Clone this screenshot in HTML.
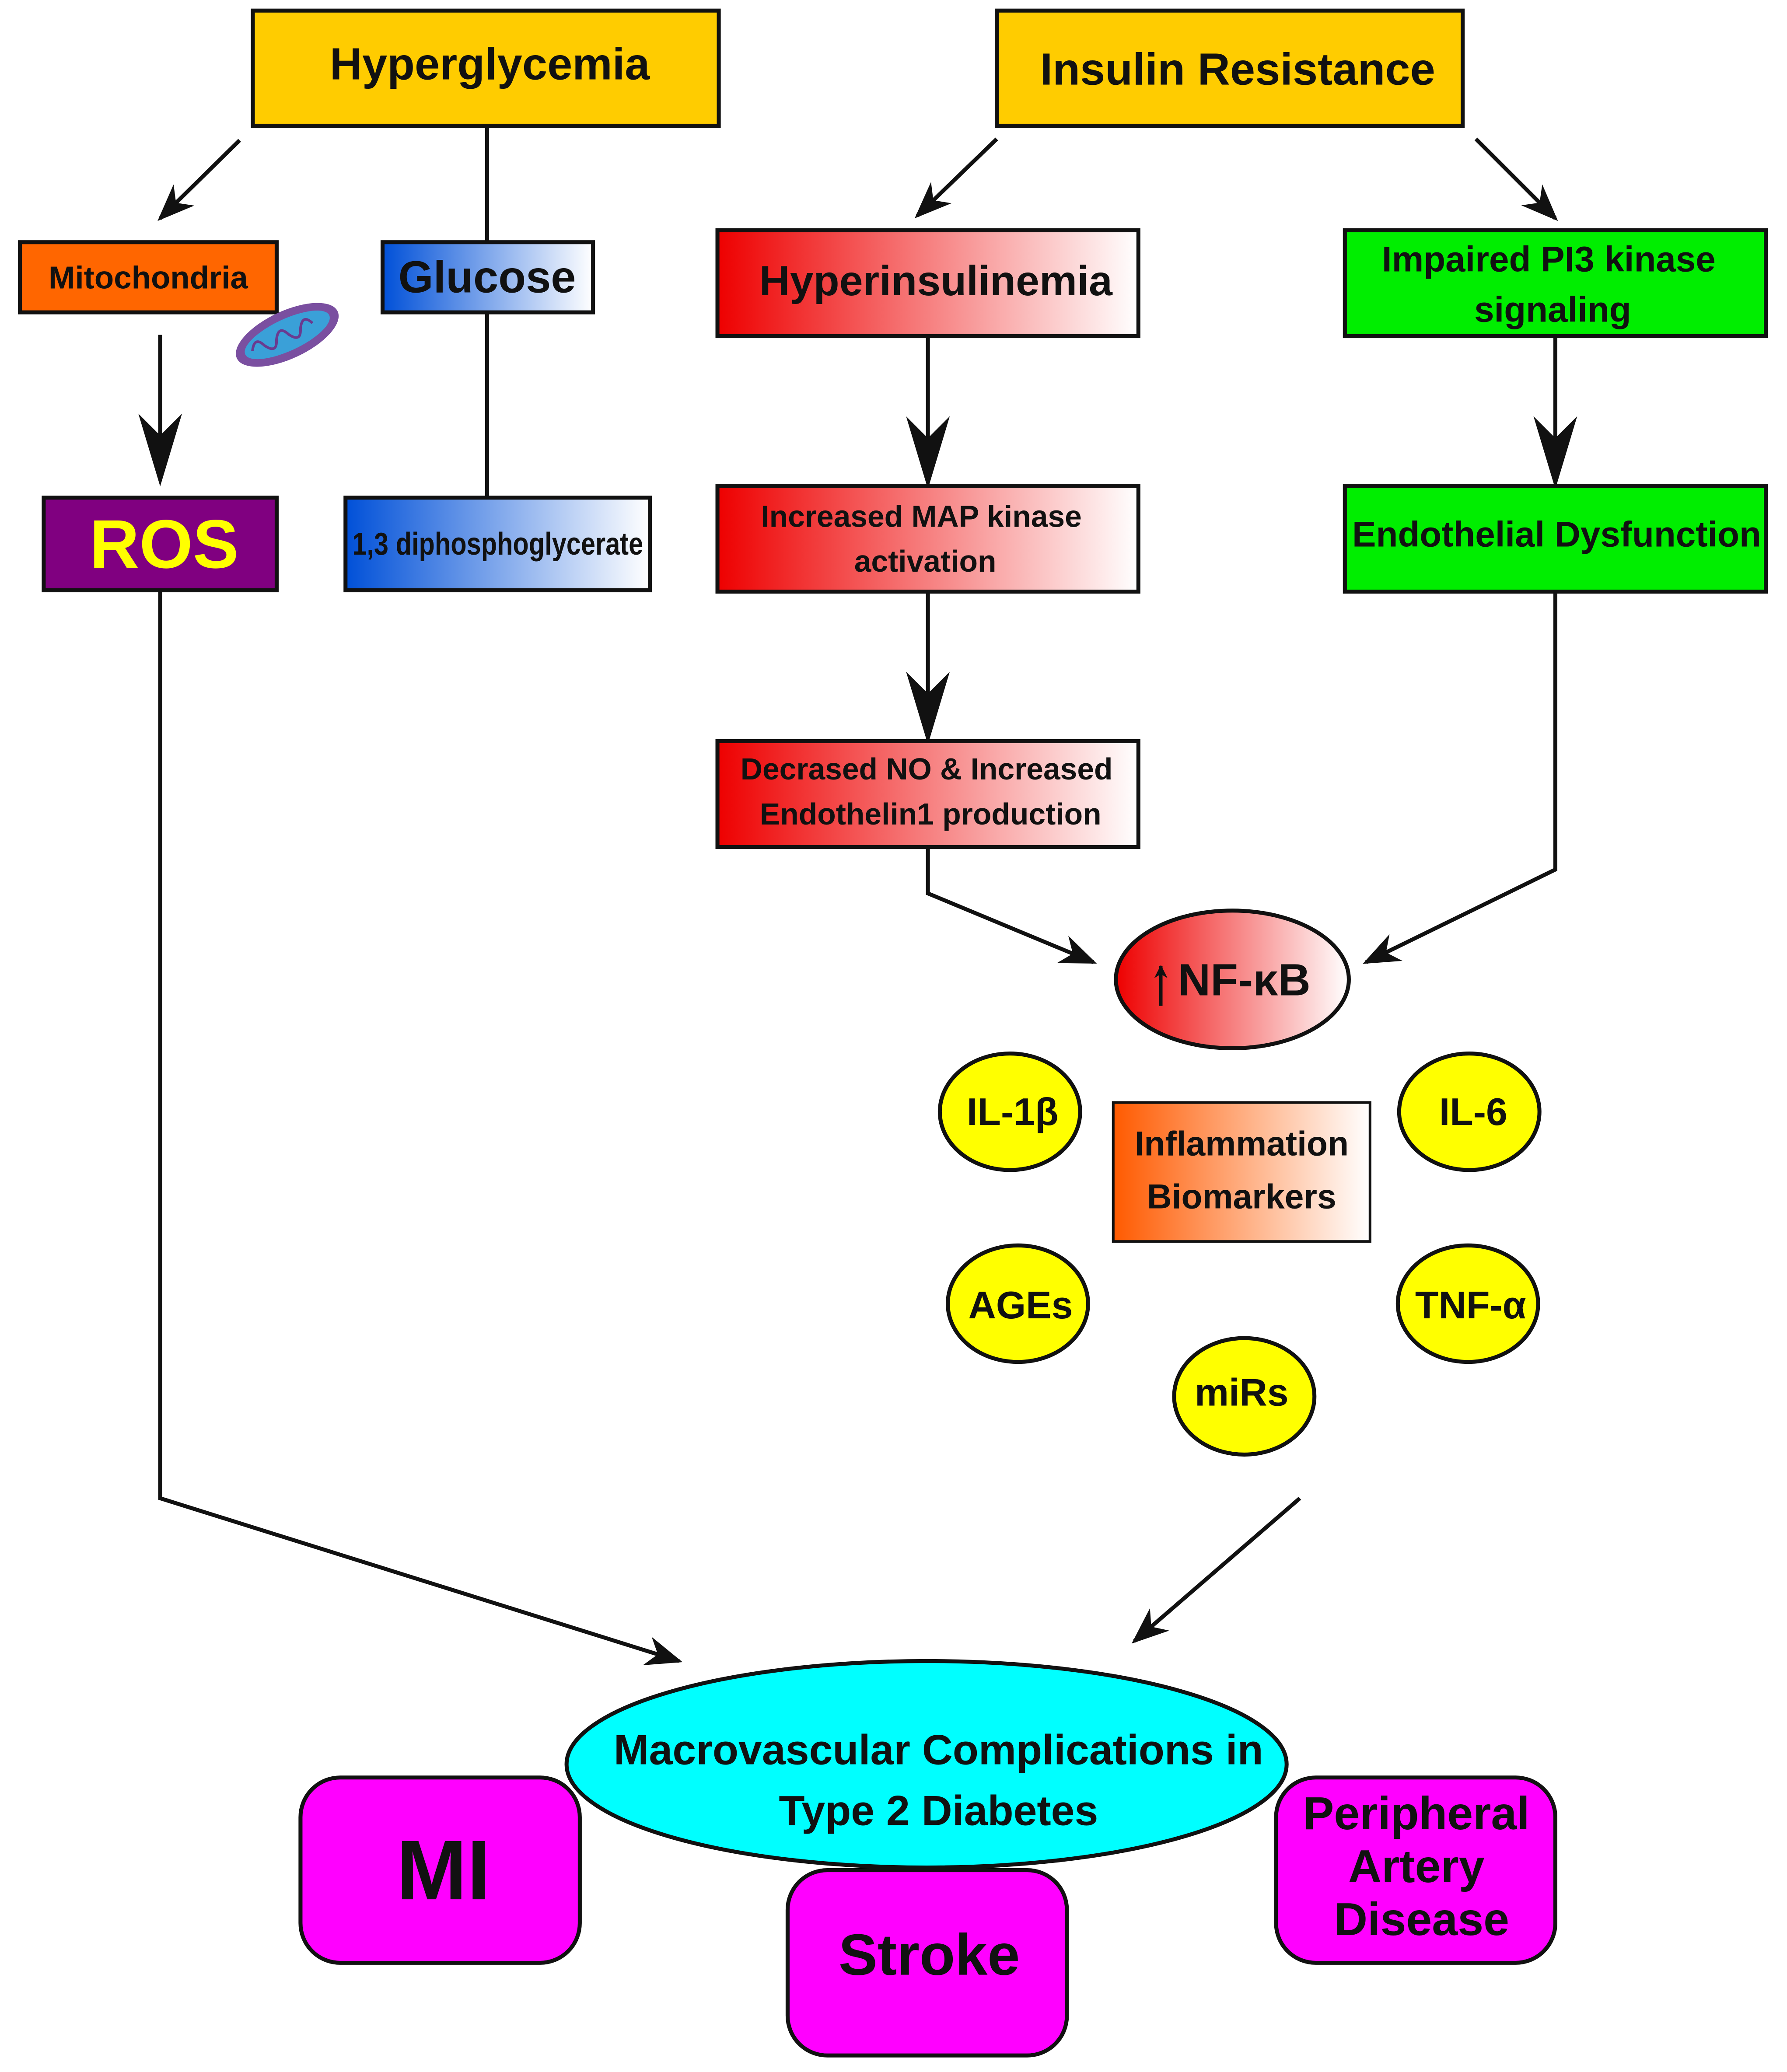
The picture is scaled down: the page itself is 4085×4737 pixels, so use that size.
<!DOCTYPE html>
<html><head><meta charset="utf-8"><style>
html,body{margin:0;padding:0;background:#fff;}
svg{display:block;}
text{font-family:"Liberation Sans",sans-serif;font-weight:bold;fill:#111;}
</style></head><body>
<svg width="4085" height="4737" viewBox="0 0 1350 1565.5" xmlns="http://www.w3.org/2000/svg">
<defs>
<linearGradient id="blue" x1="0" x2="1"><stop offset="0" stop-color="#0050d8"/><stop offset="1" stop-color="#ffffff"/></linearGradient>
<linearGradient id="red" x1="0" x2="1"><stop offset="0" stop-color="#ee0000"/><stop offset="1" stop-color="#ffffff"/></linearGradient>
<linearGradient id="org" x1="0" x2="1"><stop offset="0" stop-color="#ff5a00"/><stop offset="1" stop-color="#ffffff"/></linearGradient>
<marker id="a" viewBox="0 0 10 10" refX="9" refY="5" markerWidth="10" markerHeight="10" markerUnits="userSpaceOnUse" orient="auto"><path d="M0,0 L10,5 L0,10 L3,5 z" fill="#111"/></marker>
<marker id="b" viewBox="0 0 10 10" refX="9" refY="5" markerWidth="55" markerHeight="55" markerUnits="userSpaceOnUse" orient="auto"><path d="M0,2 L10,5 L0,8 L3,5 z" fill="#111"/></marker>
<marker id="c" viewBox="0 0 10 10" refX="9" refY="5" markerWidth="28" markerHeight="28" markerUnits="userSpaceOnUse" orient="auto"><path d="M0,1 L10,5 L0,9 L3,5 z" fill="#111"/></marker>
</defs>
<g stroke="#111" stroke-width="3" fill="none">
<line x1="368" y1="95" x2="368" y2="183"/>
<line x1="368" y1="236" x2="368" y2="376"/>
<line x1="181" y1="106" x2="121" y2="165" marker-end="url(#c)"/>
<line x1="753" y1="105" x2="693" y2="163" marker-end="url(#c)"/>
<line x1="1115" y1="105" x2="1175" y2="165" marker-end="url(#c)"/>
<line x1="121" y1="253" x2="121" y2="362" marker-end="url(#b)"/>
<line x1="701" y1="254" x2="701" y2="364" marker-end="url(#b)"/>
<line x1="1175" y1="254" x2="1175" y2="364" marker-end="url(#b)"/>
<line x1="701" y1="447" x2="701" y2="557" marker-end="url(#b)"/>
<polyline points="701,640 701,675 826,727" marker-end="url(#c)"/>
<polyline points="1175,447 1175,657 1032,727" marker-end="url(#c)"/>
<line x1="982" y1="1132" x2="857" y2="1240" marker-end="url(#c)"/>
<polyline points="121,446 121,1132 513,1255" marker-end="url(#c)"/>
</g>
<g stroke="#111" stroke-width="3">
<rect x="191" y="8" width="352" height="87" fill="#ffcc00"/>
<rect x="753" y="8" width="352" height="87" fill="#ffcc00"/>
<rect x="15" y="183" width="194" height="53" fill="#ff6600"/>
<rect x="289" y="183" width="159" height="53" fill="url(#blue)"/>
<rect x="33" y="376" width="176" height="70" fill="#800080"/>
<rect x="261" y="376" width="230" height="70" fill="url(#blue)"/>
<rect x="542" y="174" width="318" height="80" fill="url(#red)"/>
<rect x="1016" y="174" width="318" height="80" fill="#00ee00"/>
<rect x="542" y="367" width="318" height="80" fill="url(#red)"/>
<rect x="1016" y="367" width="318" height="80" fill="#00ee00"/>
<rect x="542" y="560" width="318" height="80" fill="url(#red)"/>
<ellipse cx="931" cy="740" rx="88" ry="52" fill="url(#red)"/>
<rect x="841" y="833" width="194" height="105" fill="url(#org)" stroke-width="2"/>
<ellipse cx="763" cy="840" rx="53" ry="44" fill="#ffff00"/>
<ellipse cx="1110" cy="840" rx="53" ry="44" fill="#ffff00"/>
<ellipse cx="769" cy="985" rx="53" ry="44" fill="#ffff00"/>
<ellipse cx="1109" cy="985" rx="53" ry="44" fill="#ffff00"/>
<ellipse cx="940" cy="1055" rx="53" ry="44" fill="#ffff00"/>
<ellipse cx="700" cy="1333" rx="272" ry="78" fill="#00ffff"/>
<rect x="227" y="1343" width="211" height="140" rx="30" fill="#ff00ff"/>
<rect x="964" y="1343" width="211" height="140" rx="30" fill="#ff00ff"/>
<rect x="595" y="1413" width="211" height="140" rx="30" fill="#ff00ff"/>
</g>
<g transform="rotate(-25 217 253)">
<ellipse cx="217" cy="253" rx="42" ry="18" fill="#7a4fa0"/>
<ellipse cx="217" cy="253" rx="35" ry="12" fill="#3aa0d8"/>
<path d="M188,253 q6,-10 10,0 q6,10 10,0 q6,-10 10,0 q6,10 10,0 q6,-10 10,0" stroke="#6a3a90" stroke-width="2" fill="none"/>
</g>
<text x="370" y="60" font-size="34" text-anchor="middle">Hyperglycemia</text>
<text x="935" y="64" font-size="34" text-anchor="middle">Insulin Resistance</text>
<text x="112" y="218" font-size="24" text-anchor="middle">Mitochondria</text>
<text x="368" y="221" font-size="34" text-anchor="middle">Glucose</text>
<text x="124" y="429" font-size="52" text-anchor="middle" style="fill:#ffff00">ROS</text>
<text x="376" y="419" font-size="24" text-anchor="middle" transform="translate(376 0) scale(0.82 1) translate(-376 0)">1,3 diphosphoglycerate</text>
<text x="707" y="223" font-size="32" text-anchor="middle">Hyperinsulinemia</text>
<text x="1170" y="205" font-size="27" text-anchor="middle">Impaired PI3 kinase</text>
<text x="1173" y="243" font-size="27" text-anchor="middle">signaling</text>
<text x="696" y="398" font-size="23" text-anchor="middle">Increased MAP kinase</text>
<text x="699" y="432" font-size="23" text-anchor="middle">activation</text>
<text x="1176" y="413" font-size="27" text-anchor="middle">Endothelial Dysfunction</text>
<text x="700" y="589" font-size="23" text-anchor="middle">Decrased NO &amp; Increased</text>
<text x="703" y="623" font-size="23" text-anchor="middle">Endothelin1 production</text>
<text x="940" y="752" font-size="34" text-anchor="middle">NF-κB</text>
<line x1="877" y1="760" x2="877" y2="730" stroke="#111" stroke-width="2.5" marker-end="url(#a)"/>
<text x="765" y="850" font-size="29" text-anchor="middle">IL-1β</text>
<text x="1113" y="850" font-size="29" text-anchor="middle">IL-6</text>
<text x="771" y="996" font-size="29" text-anchor="middle">AGEs</text>
<text x="1111" y="996" font-size="29" text-anchor="middle">TNF-α</text>
<text x="938" y="1062" font-size="29" text-anchor="middle">miRs</text>
<text x="938" y="873" font-size="26" text-anchor="middle">Inflammation</text>
<text x="938" y="913" font-size="26" text-anchor="middle">Biomarkers</text>
<text x="709" y="1333" font-size="32" text-anchor="middle">Macrovascular Complications in</text>
<text x="709" y="1379" font-size="32" text-anchor="middle">Type 2 Diabetes</text>
<text x="335" y="1435" font-size="64" text-anchor="middle">MI</text>
<text x="702" y="1492" font-size="44" text-anchor="middle">Stroke</text>
<text x="1070" y="1382" font-size="35" text-anchor="middle">Peripheral</text>
<text x="1070" y="1422" font-size="35" text-anchor="middle">Artery</text>
<text x="1074" y="1462" font-size="35" text-anchor="middle">Disease</text>
</svg>
</body></html>
